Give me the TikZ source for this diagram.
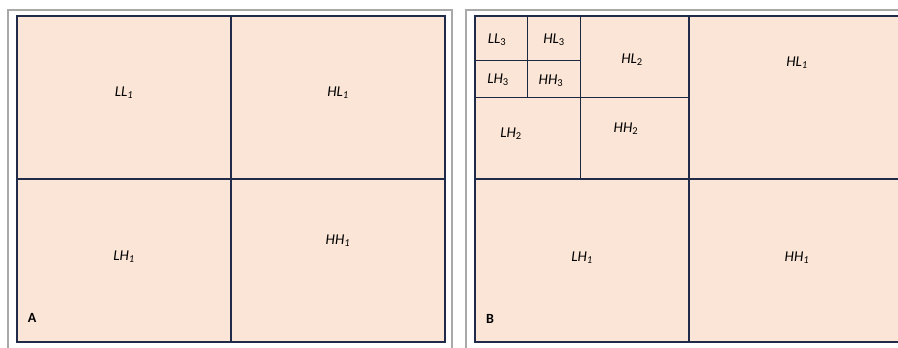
\documentclass[tikz,border=0pt]{standalone}
\usepackage{fontspec}
\setmainfont{Carlito}
\definecolor{cellfill}{HTML}{FBE5D6}
\definecolor{gridline}{HTML}{1F2B48}
\definecolor{framegray}{HTML}{A9A9A9}
\begin{document}
\begin{tikzpicture}[x=1pt,y=-1pt,
  frame/.style={draw=framegray,line width=1.4pt},
  cell/.style={draw=gridline,line width=1.4pt,fill=cellfill},
  divider/.style={draw=gridline,line width=1.2pt},
  finediv/.style={draw=gridline!90!black,line width=1pt},
  band/.style={font=\fontsize{15}{17}\selectfont\itshape},
  panellabel/.style={font=\fontsize{14}{16}\selectfont\bfseries}]
\useasboundingbox (0,0) rectangle (898,348);
\clip (0,0) rectangle (898,348);
\fill[white] (0,0) rectangle (898,348);

% outer frames
\draw[frame] (8,360) -- (8,10) -- (452,10) -- (452,360);
\draw[frame] (466,360) -- (466,10) -- (910,10);

% panel A: one-level decomposition
\draw[cell] (17,16) rectangle (445,342);
\draw[divider] (231,16) -- (231,342);
\draw[divider] (17,179) -- (445,179);
\node[band] (aLL1) at (124,93) {LL\textsubscript{1}};
\node[band] (aHL1) at (338,93) {HL\textsubscript{1}};
\node[band] (aLH1) at (124,257) {LH\textsubscript{1}};
\node[band] (aHH1) at (338,241) {HH\textsubscript{1}};
\node[panellabel] (labA) at (32,318) {A};

% panel B: three-level decomposition
\draw[cell] (475,16) rectangle (910,342);
\draw[divider] (689,16) -- (689,342);
\draw[divider] (475,179) -- (910,179);
\draw[finediv] (580,16) -- (580,179);
\draw[finediv] (475,97) -- (689,97);
\draw[finediv] (527,16) -- (527,97);
\draw[finediv] (475,60) -- (580,60);
\node[band] (bLL3) at (497,40) {LL\textsubscript{\upshape 3}};
\node[band] (bHL3) at (554,40) {HL\textsubscript{\upshape 3}};
\node[band] (bLH3) at (498,80) {LH\textsubscript{\upshape 3}};
\node[band] (bHH3) at (551,81) {HH\textsubscript{\upshape 3}};
\node[band] (bHL2) at (632,60) {HL\textsubscript{\upshape 2}};
\node[band] (bLH2) at (511,134) {LH\textsubscript{\upshape 2}};
\node[band] (bHH2) at (626,129) {HH\textsubscript{\upshape 2}};
\node[band] (bHL1) at (797,63) {HL\textsubscript{1}};
\node[band] (bLH1) at (582,258) {LH\textsubscript{1}};
\node[band] (bHH1) at (797,258) {HH\textsubscript{1}};
\node[panellabel] (labB) at (490,319) {B};
\end{tikzpicture}
\end{document}
